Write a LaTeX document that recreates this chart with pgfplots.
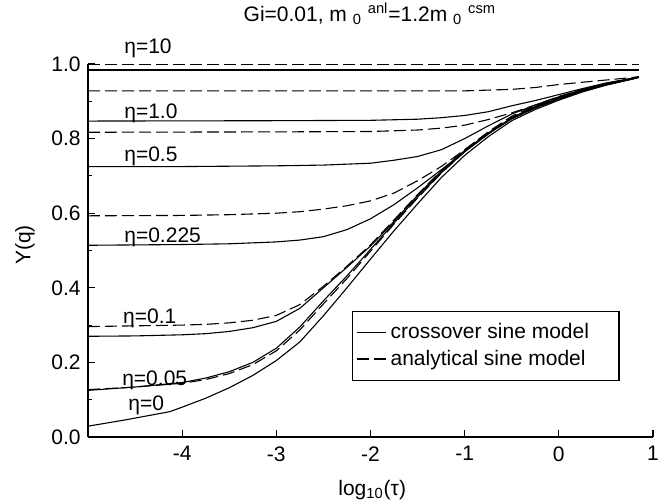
\documentclass[border=0pt]{standalone}
\usepackage{fontspec}
\setmainfont{Liberation Sans}
\usepackage{pgfplots}
\pgfplotsset{compat=1.18}
\begin{document}
\fontsize{10.5bp}{12.6bp}\selectfont
\begin{tikzpicture}
\useasboundingbox (-44bp,-33.5bp) rectangle (289.5bp,218.5bp);
\begin{axis}[
  at={(0,0)}, anchor=south west,
  scale only axis, width=282.5bp, height=186.5bp,
  xmin=-5, xmax=1, ymin=0, ymax=1,
  axis lines*=left,
  axis line style={line width=0.8pt, black},
  tick align=inside,
  xtick={-4,-3,-2,-1,0,1},
  ytick={0,0.2,0.4,0.6,0.8,1.0},
  minor ytick={0.1,0.3,0.5,0.7,0.9},
  major tick length=3.5bp, minor tick length=2bp,
  tick style={line width=0.6pt, black},
  /pgf/number format/assume math mode=true,
  yticklabel style={/pgf/number format/fixed, /pgf/number format/fixed zerofill, /pgf/number format/precision=1},
  xticklabel style={yshift=-1bp},
  clip=false,
  every axis title shift=0pt,
  title={Gi=0.01, m \textsubscript{0} \textsuperscript{anl}=1.2m \textsubscript{0} \textsuperscript{csm}},
  title style={at={(axis description cs:0.499,1.115)}, anchor=base, inner sep=0pt, yshift=0pt},
  xlabel={log\textsubscript{10}(τ)},
  xlabel style={at={(axis description cs:0.503,-0.142)}, anchor=center, inner sep=0pt},
  ylabel={Y(q)},
  ylabel style={at={(axis description cs:-0.1115,0.515)}, anchor=center, inner sep=0pt},
  legend image code/.code={\draw[#1] (0bp,0bp) -- (12.5bp,0bp); \path (0bp,0bp) -- (14.5bp,0bp);},
  legend cell align=left,
  legend style={at={(axis cs:-2.2,0.338)}, anchor=north west, draw=black, line width=0.6pt,
    fill=white, inner xsep=2bp, inner ysep=4bp, row sep=0bp},
  every axis plot/.append style={line width=0.55pt, black},
  dsh/.style={dash pattern=on 6bp off 2.5bp},
]
\addlegendimage{solid, line width=0.7pt}
\addlegendentry{crossover sine model\rule{11bp}{0pt}}
\addlegendimage{dsh, line width=0.6pt}
\addlegendentry{analytical sine model}

% eta = 0, crossover
\addplot[forget plot] coordinates {(-5,0.029) (-4.6,0.046) (-4.13,0.068) (-4,0.080) (-3.75,0.104) (-3.5,0.132) (-3.25,0.165) (-3,0.205) (-2.75,0.255) (-2.5,0.325) (-2.25,0.400) (-2,0.477) (-1.75,0.553) (-1.5,0.625) (-1.25,0.695) (-1,0.755) (-0.75,0.805) (-0.5,0.848) (-0.25,0.878) (0,0.903) (0.25,0.925) (0.5,0.943) (0.75,0.958) (0.85,0.964)};
% eta = 0.05
\addplot[forget plot] coordinates {(-5,0.125) (-4.5,0.134) (-4,0.146) (-3.75,0.158) (-3.5,0.175) (-3.25,0.200) (-3,0.238) (-2.75,0.295) (-2.5,0.365) (-2.25,0.432) (-2,0.503) (-1.75,0.574) (-1.5,0.643) (-1.25,0.708) (-1,0.765) (-0.75,0.813) (-0.5,0.853) (-0.25,0.882) (0,0.906) (0.25,0.927) (0.5,0.944) (0.75,0.958) (0.85,0.964)};
\addplot[forget plot, dsh] coordinates {(-5,0.127) (-4.5,0.134) (-4,0.144) (-3.75,0.154) (-3.5,0.170) (-3.25,0.194) (-3,0.231) (-2.75,0.287) (-2.5,0.357) (-2.25,0.425) (-2,0.498) (-1.75,0.571) (-1.5,0.641) (-1.25,0.707) (-1,0.765) (-0.75,0.813) (-0.5,0.853) (-0.25,0.882) (0,0.906) (0.25,0.927) (0.5,0.944) (0.75,0.958) (0.85,0.964)};
% eta = 0.1
\addplot[forget plot] coordinates {(-5,0.270) (-4.5,0.271) (-4,0.274) (-3.75,0.277) (-3.5,0.283) (-3.25,0.293) (-3,0.310) (-2.75,0.345) (-2.5,0.400) (-2.25,0.455) (-2,0.512) (-1.75,0.578) (-1.5,0.648) (-1.25,0.712) (-1,0.768) (-0.75,0.815) (-0.5,0.855) (-0.25,0.884) (0,0.907) (0.25,0.928) (0.5,0.945) (0.75,0.959) (0.85,0.965)};
\addplot[forget plot, dsh] coordinates {(-5,0.296) (-4.5,0.298) (-4,0.300) (-3.75,0.302) (-3.5,0.306) (-3.25,0.313) (-3,0.326) (-2.75,0.355) (-2.5,0.404) (-2.25,0.458) (-2,0.515) (-1.75,0.582) (-1.5,0.650) (-1.25,0.714) (-1,0.770) (-0.75,0.817) (-0.5,0.857) (-0.25,0.886) (0,0.909) (0.25,0.929) (0.5,0.946) (0.75,0.959) (0.85,0.965)};
% eta = 0.225
\addplot[forget plot] coordinates {(-5,0.514) (-4.5,0.515) (-4,0.516) (-3.5,0.518) (-3,0.523) (-2.75,0.528) (-2.5,0.537) (-2.25,0.556) (-2,0.585) (-1.75,0.623) (-1.5,0.668) (-1.25,0.716) (-1,0.765) (-0.75,0.812) (-0.5,0.856) (-0.25,0.886) (0,0.909) (0.25,0.929) (0.5,0.946) (0.75,0.959) (0.85,0.965)};
\addplot[forget plot, dsh] coordinates {(-5,0.593) (-4,0.594) (-3.5,0.596) (-3,0.600) (-2.75,0.604) (-2.5,0.611) (-2.25,0.620) (-2,0.633) (-1.75,0.654) (-1.5,0.687) (-1.25,0.725) (-1,0.770) (-0.75,0.818) (-0.5,0.860) (-0.25,0.889) (0,0.911) (0.25,0.930) (0.5,0.947) (0.75,0.959) (0.85,0.965)};
% eta = 0.5
\addplot[forget plot] coordinates {(-5,0.725) (-4,0.725) (-3,0.727) (-2.5,0.729) (-2,0.734) (-1.75,0.742) (-1.5,0.752) (-1.25,0.770) (-1,0.800) (-0.75,0.834) (-0.5,0.866) (-0.25,0.890) (0,0.912) (0.25,0.931) (0.5,0.948) (0.75,0.960) (0.85,0.965)};
\addplot[forget plot, dsh] coordinates {(-5,0.817) (-3,0.818) (-2,0.819) (-1.5,0.823) (-1.25,0.828) (-1,0.836) (-0.75,0.851) (-0.5,0.869) (-0.25,0.890) (0,0.913) (0.25,0.932) (0.5,0.948) (0.75,0.960) (0.85,0.965)};
% eta = 1.0
\addplot[forget plot] coordinates {(-5,0.847) (-3,0.848) (-2,0.849) (-1.5,0.852) (-1.25,0.856) (-1,0.862) (-0.75,0.872) (-0.5,0.888) (-0.25,0.902) (0,0.918) (0.25,0.934) (0.5,0.949) (0.75,0.960) (0.85,0.965)};
\addplot[forget plot, dsh] coordinates {(-5,0.928) (-1,0.928) (-0.75,0.930) (-0.5,0.932) (-0.25,0.937) (0,0.945) (0.25,0.951) (0.5,0.957) (0.75,0.963) (0.85,0.966)};
% eta = 10
\addplot[forget plot] coordinates {(-5,0.984) (0.85,0.984)};
\addplot[forget plot, dsh] coordinates {(-5,0.998) (0.85,0.998)};

\node[anchor=base west, inner sep=0pt] at (axis cs:-4.618,1.027) {η=10};
\node[anchor=base west, inner sep=0pt] at (axis cs:-4.618,0.855) {η=1.0};
\node[anchor=base west, inner sep=0pt] at (axis cs:-4.618,0.738) {η=0.5};
\node[anchor=base west, inner sep=0pt] at (axis cs:-4.618,0.521) {η=0.225};
\node[anchor=base west, inner sep=0pt] at (axis cs:-4.630,0.303) {η=0.1};
\node[anchor=base west, inner sep=0pt] at (axis cs:-4.640,0.139) {η=0.05};
\node[anchor=base west, inner sep=0pt] at (axis cs:-4.575,0.072) {η=0};
\end{axis}
\end{tikzpicture}
\end{document}
